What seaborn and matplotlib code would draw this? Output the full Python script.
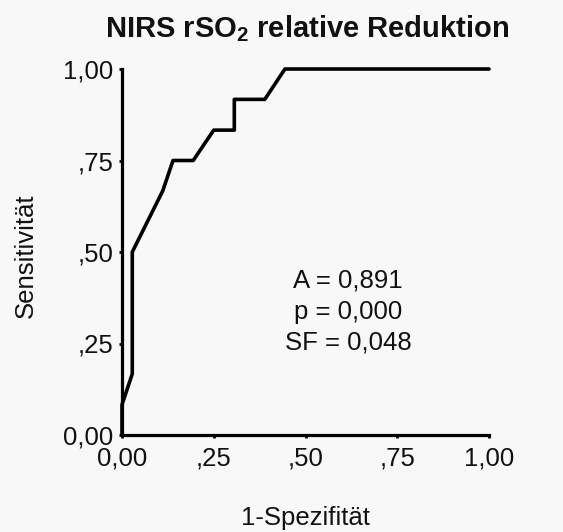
import matplotlib
matplotlib.use("Agg")
import matplotlib.pyplot as plt
import seaborn as sns
import pandas as pd

# ROC curve points (1 - specificity, sensitivity)
fpr = [0.000, 0.000, 0.028, 0.028, 0.111, 0.139, 0.194, 0.250, 0.306, 0.306, 0.389, 0.444, 1.000]
tpr = [0.000, 0.083, 0.167, 0.500, 0.667, 0.750, 0.750, 0.833, 0.833, 0.917, 0.917, 1.000, 1.000]

tick_values = [0.00, 0.25, 0.50, 0.75, 1.00]
tick_labels = ["0,00", ",25", ",50", ",75", "1,00"]

stats_lines = ["A = 0,891", "p = 0,000", "SF = 0,048"]

sns.set_theme(style="ticks")
plt.rcParams["font.family"] = ["Liberation Sans", "DejaVu Sans"]
plt.rcParams["mathtext.fontset"] = "custom"
plt.rcParams["mathtext.rm"] = "Liberation Sans"
plt.rcParams["mathtext.bf"] = "Liberation Sans:bold"

W, H = 563, 532
bg = "#f8f8f8"
txt = "#111111"
fs = 18.5

fig = plt.figure(figsize=(W / 100, H / 100), dpi=100, facecolor=bg)
ax = fig.add_axes([122 / W, 1 - 435 / H, 367 / W, 366 / H], facecolor=bg)

df = pd.DataFrame({"fpr": fpr, "tpr": tpr})
sns.lineplot(data=df, x="fpr", y="tpr", sort=False, estimator=None,
             color="black", linewidth=2.6, ax=ax, clip_on=False)

ax.set_xlim(0, 1)
ax.set_ylim(0, 1)
ax.set_xticks(tick_values)
ax.set_xticklabels(tick_labels)
ax.set_yticks(tick_values)
ax.set_yticklabels(tick_labels)

for side in ("top", "right"):
    ax.spines[side].set_visible(False)
for side in ("left", "bottom"):
    ax.spines[side].set_linewidth(2.3)
    ax.spines[side].set_color("black")

ax.tick_params(axis="both", length=2, width=2, colors="black",
               labelsize=fs, labelcolor=txt)
ax.tick_params(axis="x", pad=6)
ax.tick_params(axis="y", pad=4)

ax.set_xlabel("")
ax.set_ylabel("")
fig.text(305 / W, 1 - 518 / H, "1-Spezifität", ha="center", va="center",
         fontsize=fs, color=txt)
fig.text(26 / W, 1 - 256 / H, "Sensitivität", ha="center", va="center",
         rotation=90, fontsize=fs, color=txt)

ax.text(0.616, 0.337, "\n".join(stats_lines), ha="center", va="center",
        multialignment="center", fontsize=fs, color=txt, linespacing=1.36)

fig.text(307 / W, 1 - 37 / H, r"NIRS rSO$_{\mathbf{2}}$ relative Reduktion",
         ha="center", va="baseline", fontsize=21, fontweight="bold",
         color=txt)

fig.savefig("out.png", dpi=100, facecolor=bg)
